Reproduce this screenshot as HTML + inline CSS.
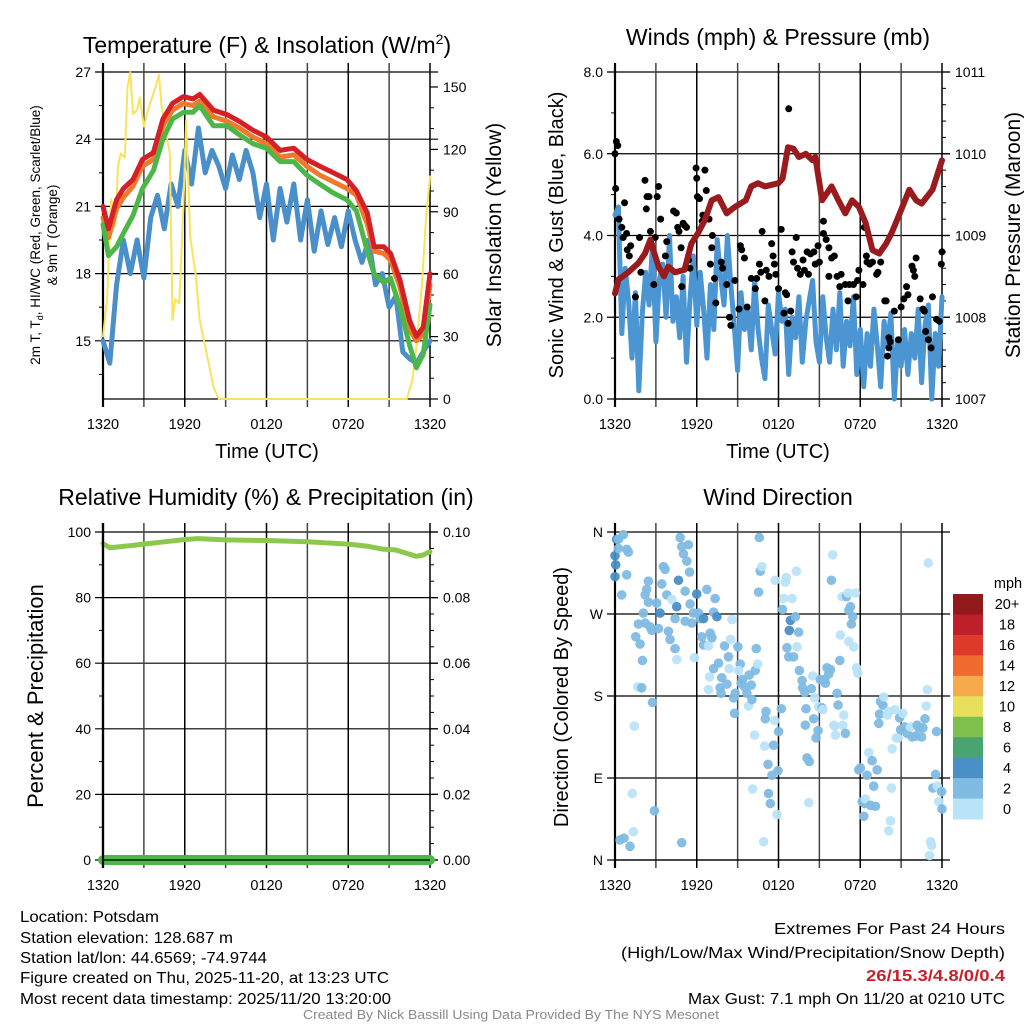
<!DOCTYPE html>
<html><head><meta charset="utf-8">
<style>
html,body{margin:0;padding:0;background:#fff;}
svg{display:block;font-family:"Liberation Sans",sans-serif;}
</style></head>
<body>
<svg id="chart" width="1024" height="1024" viewBox="0 0 1024 1024" xmlns="http://www.w3.org/2000/svg">
<g id="bg"></g>
<text x="267" y="53" font-size="23" text-anchor="middle">Temperature (F) &amp; Insolation (W/m<tspan dy="-9" font-size="14">2</tspan><tspan dy="9">)</tspan></text>
<text x="778" y="45" font-size="23" text-anchor="middle">Winds (mph) &amp; Pressure (mb)</text>
<text x="266" y="505" font-size="23" text-anchor="middle">Relative Humidity (%) &amp; Precipitation (in)</text>
<text x="778" y="505" font-size="23" text-anchor="middle">Wind Direction</text>

<text font-size="13.5" text-anchor="middle" transform="translate(40,235) rotate(-90)">2m T, T<tspan font-size="9" dy="3">d</tspan><tspan dy="-3">, HI/WC (Red, Green, Scarlet/Blue)</tspan></text>
<text font-size="13.5" text-anchor="middle" transform="translate(57,235) rotate(-90)">&amp; 9m T (Orange)</text>
<text font-size="21" text-anchor="middle" transform="translate(501,235) rotate(-90)">Solar Insolation (Yellow)</text>
<text font-size="20" text-anchor="middle" transform="translate(563,235) rotate(-90)">Sonic Wind &amp; Gust (Blue, Black)</text>
<text font-size="21" text-anchor="middle" transform="translate(1020,235) rotate(-90)">Station Pressure (Maroon)</text>
<text font-size="22" text-anchor="middle" transform="translate(43,696) rotate(-90)">Percent &amp; Precipitation</text>
<text font-size="20" text-anchor="middle" transform="translate(568,697) rotate(-90)">Direction (Colored By Speed)</text>
<text x="267" y="458" font-size="20" text-anchor="middle">Time (UTC)</text>
<text x="778" y="458" font-size="20" text-anchor="middle">Time (UTC)</text>

<g id="plots"></g>

<g font-size="16" lengthAdjust="spacingAndGlyphs">
<text x="20" y="922" textLength="139" lengthAdjust="spacingAndGlyphs">Location: Potsdam</text>
<text x="20" y="943" textLength="213" lengthAdjust="spacingAndGlyphs">Station elevation: 128.687 m</text>
<text x="20" y="963" textLength="247" lengthAdjust="spacingAndGlyphs">Station lat/lon: 44.6569; -74.9744</text>
<text x="20" y="983" textLength="369" lengthAdjust="spacingAndGlyphs">Figure created on Thu, 2025-11-20, at 13:23 UTC</text>
<text x="20" y="1004" textLength="371" lengthAdjust="spacingAndGlyphs">Most recent data timestamp: 2025/11/20 13:20:00</text>
</g>
<g font-size="16">
<text x="774" y="934" textLength="231" lengthAdjust="spacingAndGlyphs">Extremes For Past 24 Hours</text>
<text x="621" y="958" textLength="384" lengthAdjust="spacingAndGlyphs">(High/Low/Max Wind/Precipitation/Snow Depth)</text>
<text x="866" y="981" textLength="139" lengthAdjust="spacingAndGlyphs" fill="#c8202a" font-weight="bold">26/15.3/4.8/0/0.4</text>
<text x="688" y="1004" textLength="317" lengthAdjust="spacingAndGlyphs">Max Gust: 7.1 mph On 11/20 at 0210 UTC</text>
</g>
<text x="303" y="1019" font-size="13" fill="#888" textLength="416" lengthAdjust="spacingAndGlyphs">Created By Nick Bassill Using Data Provided By The NYS Mesonet</text>
</svg>
<script>
// ---------- data ----------
const xTickLabels = ["1320","1920","0120","0720","1320"];
const tempHours = [0,0.4,1,1.5,2.2,2.9,3.7,4.4,5.1,5.9,6.6,7.1,8.1,9.1,10,11,12,13,14,14.95,15.9,16.9,17.9,18.6,19.4,19.9,20.6,21.1,21.8,22.5,23,23.5,24];
const tempRed = [21,20,21.3,21.8,22.2,23.1,23.4,24.9,25.6,25.9,25.8,26,25.3,25.1,24.8,24.4,24.1,23.5,23.6,23.1,22.8,22.5,22.2,21.7,20.7,19.2,19.2,18.9,17.7,15.9,15.2,15.6,18];
const tempOrange = [20.5,19.6,20.9,21.4,21.9,22.8,23.1,24.6,25.3,25.6,25.5,25.7,25,24.8,24.5,24.1,23.8,23.2,23.3,22.8,22.4,22.1,21.8,21.5,20.2,19,18.9,18.6,17.4,15.5,15,15.3,17.5];
const tempGreen = [20.2,18.8,19.2,19.8,20.6,21.8,22.6,24,24.9,25.2,25.2,25.5,24.6,24.6,24.2,23.8,23.6,23,23,22.4,22,21.6,21.3,20.8,19,18,17.6,17.8,16.5,14.8,13.8,14.4,16.6];
const dewpointBlue = [15,14,17.5,19.5,18,19.5,17.8,20.5,21.5,20,22,21,23.5,22,24.5,22.5,23.5,22.8,21.8,23.3,22.2,23.5,22.5,20.5,22,19.5,21.8,20.3,22,19.5,21.3,19,20.8,19.3,20.5,19.2,20.8,19.5,18.5,19.5,17.5,18,16.5,17,14.5,14.2,14,14.5,15];
const solarHours = [0,0.3,0.6,0.9,1.1,1.3,1.6,1.8,2,2.2,2.5,2.7,3,3.3,3.6,3.9,4.1,4.3,4.6,4.9,5.1,5.3,5.6,5.9,6.1,6.4,6.8,7.1,7.6,8.1,8.5,22.3,22.7,23,23.4,23.7,24];
const solarValues = [30,48,96,83,112,118,116,150,157,137,139,145,131,139,145,151,156,141,129,118,38,48,46,92,134,78,60,38,22,6,0,0,9,25,54,86,107];
const windSpeed = [4.5,4.7,1.6,3.2,2.4,1.0,2.6,0.2,2.1,3.1,2.3,3.8,1.4,2.9,3.3,2.0,4.0,1.9,2.5,1.5,3.0,0.9,2.4,3.5,1.8,3.1,2.2,1.0,2.8,1.7,3.9,3.0,2.3,4.0,2.8,1.8,0.7,2.6,1.7,2.2,1.2,2.9,1.7,1.0,0.5,2.3,1.7,1.1,2.6,1.9,2.2,0.6,2.0,1.5,2.5,0.9,1.9,2.4,2.9,1.4,0.9,2.5,1.5,0.9,2.2,1.2,2.6,0.8,1.9,1.3,2.5,0.6,1.7,0.3,1.6,0.8,2.2,1.3,0.3,1.9,1.3,2.1,0.0,1.4,0.8,1.7,0.6,1.6,1.0,2.2,0.4,1.8,2.3,0.0,1.6,0.8,2.5];
const gustHours = [0,0.05,0.1,0.2,0.3,0.5,0.6,0.7,0.85,0.9,1.05,1.15,1.5,1.8,1.9,2.2,2.3,2.35,2.5,2.6,2.85,2.95,3.1,3.2,3.35,3.8,3.7,4.3,4.5,4.6,4.7,4.85,4.9,5,5.1,5.25,5.4,5.5,5.95,6,6.05,6.2,6.4,6.45,6.6,6.7,6.9,7.15,7,7.1,7.3,7.4,7.8,7.9,8.2,8.4,8.5,8.8,9.1,9.2,9.3,9.5,9.7,10,10.3,10.4,10.6,10.7,10.8,11,11.1,11.3,11.5,11.6,11.7,11.8,12,12.2,12.5,12.6,12.9,12.4,12.7,12.75,13,13.1,13.3,13.4,13.6,13.8,13.9,14.1,14.2,14.35,14.6,14.7,14.9,15,15.3,15.3,15.5,15.7,15.7,15.9,16.1,16.3,16.5,16.6,16.9,17.1,17.2,17.5,17.7,17.8,17.9,18.2,18.3,18.45,18.5,18.7,18.9,19.2,19.3,19.5,19.8,19.9,20.1,20.1,20.2,20,20.5,20.8,21,21.2,21.4,21.5,21.8,21.9,22,22.1,22.4,22.6,22.7,22.8,23,23.2,23.3,23.6,23.8,23.95,24];
const gustValues = [6.0,5.15,6.3,6.2,4.4,4.2,3.95,4.8,4.05,3.65,3.5,3.75,2.5,3.95,3.1,5.35,4.65,4.95,4.95,4.1,2.8,3.95,4.95,5.2,4.4,3.85,3.5,4.6,4.55,4.2,4.1,3.7,2.75,4.3,4.25,4.2,3.4,3.2,5.65,5.4,4.95,4.9,4.35,4.5,5.6,5.1,4.4,4.0,3.3,3.7,2.95,2.35,3.35,3.2,2.8,2.0,1.8,2.9,2.2,3.75,3.65,3.45,2.25,2.95,2.7,2.95,3.3,3.1,4.1,2.4,3.15,3.0,3.8,3.5,3.3,3.05,2.7,4.15,2.6,2.55,2.15,2.1,1.85,7.1,3.6,3.35,3.95,3.2,3.05,3.4,3.15,3.6,3.05,3.55,3.6,3.3,3.75,3.35,4.05,4.35,3.9,3.0,3.7,3.45,3.5,3.0,2.75,3.05,2.8,2.4,2.8,2.8,2.5,2.9,3.15,2.8,4.2,3.5,3.35,3.3,3.35,3.05,3.1,3.35,2.4,2.4,1.5,1.25,1.4,1.05,2.15,1.45,2.25,2.45,2.75,2.55,3.25,3.15,3.0,3.45,2.45,2.2,2.15,1.65,1.45,1.25,2.5,1.95,1.9,3.3,3.6];
const pressureHours = [0,0.25,0.9,1.7,2.2,2.6,2.8,3.2,3.6,3.9,4.4,5.1,5.6,6.1,6.6,7.1,7.6,8.2,8.8,9.6,10,10.5,11,12,12.3,12.7,13.1,13.5,14,14.5,14.7,15.2,15.9,16.4,16.9,17.4,17.9,18.4,18.9,19.4,19.9,20.3,20.8,21.6,22.1,22.5,23.3,24];
const pressureValues = [1008.29,1008.46,1008.54,1008.66,1008.78,1008.95,1008.83,1008.62,1008.5,1008.62,1008.55,1008.58,1008.9,1009.03,1009.19,1009.43,1009.47,1009.27,1009.35,1009.43,1009.6,1009.64,1009.6,1009.64,1009.7,1010.08,1010.06,1009.96,1010.0,1009.92,1009.96,1009.43,1009.6,1009.43,1009.27,1009.43,1009.35,1009.15,1008.82,1008.78,1008.9,1009.03,1009.23,1009.56,1009.43,1009.39,1009.56,1009.92];
const rhHours = [0,0.5,1.5,3,4.5,6,7,9,12,15,18,19.5,20.5,21.5,22.5,23,23.5,24];
const rhValues = [96.5,95.2,95.6,96.3,97,97.7,98,97.6,97.4,97,96.3,95.6,94.8,94.5,93.2,92.6,93,94];
const precipHours = [0,24];
const precipValues = [0,0];
const dirHours = [0,0.12,0.25,0.61,0.25,0.05,0,0.86,0.98,0.86,0.49,2.45,2.33,2.21,2.45,2.08,1.72,2.21,2.57,2.7,1.52,1.84,2.01,1.67,1.96,2.75,1.42,1.27,2.89,1.35,0.37,0.66,1.1,4.9,3.06,3.31,3.19,3.43,3.55,3.68,3.8,4.17,3.92,4.04,4.41,4.53,4.41,4.53,4.66,4.78,4.9,5.02,5.27,5.39,5.47,5.15,5.51,5.15,5.64,5.76,5.83,6,6.13,6.25,6.5,6.74,6.37,6.5,6.86,6.99,7.35,7.23,7.48,7.11,6.94,6.86,7.23,7.6,7.72,7.84,7.79,8.04,8.21,8.33,8.48,8.38,8.58,8.7,8.77,8.82,9.02,9.19,9.07,9.26,9.36,9.51,9.68,9.85,9.8,10,10.05,10.29,10.37,10.47,10.54,10.59,10.66,10.78,10.25,10.1,10.91,11.03,11.08,10.98,11.23,11.27,11.4,11.52,11.64,11.72,12.01,11.96,11.89,12.21,12.3,11.76,12.38,12.5,12.57,12.62,12.75,12.87,12.79,12.99,13.11,13.24,13.36,13.31,13.48,13.53,13.73,13.77,13.92,14.02,13.97,14.09,14.26,14.22,14.41,14.51,14.58,14.66,14.75,14.9,14.95,15.07,15.2,15.25,15.39,15.44,15.56,15.69,15.81,15.88,15.98,16.05,16.13,16.18,16.3,16.37,16.5,16.54,16.72,16.79,16.91,16.67,16.99,17.11,17.16,17.28,17.35,17.45,17.16,17.52,17.65,17.72,17.82,17.89,18.01,18.14,18.26,18.33,18.5,18.63,18.87,18.99,19.12,19.24,18.38,18.75,19.36,19.41,19.49,19.66,19.73,19.98,20.1,20.22,20.1,20.34,20.29,20.54,20.64,20.78,20.88,20.96,21.13,21.27,21.45,21.69,21.81,22.06,22.18,22.3,22.5,22.6,22.75,22.84,22.92,22.99,23.16,23.24,23.09,23.33,23.53,23.65,23.77,23.97,24,23.6];
const dirDegrees = [334,352,352,357,342,324,311,341,338,313,291,306,297,291,283,271,259,260,256,252,245,237,219,190,189,173,147,73,54,31,22,24,15,19,282,271,254,303,322,319,291,286,251,242,265,278,232,220,307,354,344,336,328,346,316,295,281,262,260,271,222,292,271,265,265,297,245,236,235,249,287,272,267,244,201,187,210,216,189,200,183,235,193,223,242,210,264,178,161,183,234,215,208,194,198,190,183,203,169,192,176,208,232,215,294,354,317,322,137,78,20,155,163,125,105,73,62,93,126,153,141,98,50,166,275,307,287,305,310,233,223,263,252,287,223,267,234,317,250,208,197,189,184,166,148,112,108,63,188,202,155,178,134,142,168,198,167,165,198,194,211,204,209,307,335,148,147,137,183,170,219,247,148,159,139,289,289,293,274,278,259,267,240,234,293,211,205,99,101,64,48,62,93,118,109,81,59,99,67,60,150,160,174,170,179,159,163,43,32,122,79,165,134,134,156,143,161,146,139,146,135,136,148,145,135,145,155,169,187,326,20,16,5,79,94,81,64,75,56,141];
const dirSpeeds = [5,5,3,3,3,5,5,3,3,3,3,3,3,3,3,3,3,3,3,3,3,3,3,1,3,3,1,1,3,1,3,3,3,3,3,5,3,3,3,3,3,1,3,3,3,5,3,1,5,3,3,3,3,3,3,3,3,3,3,3,1,5,3,3,5,3,3,3,1,3,3,3,5,3,1,1,3,3,3,3,3,3,3,3,1,1,1,3,3,3,3,3,1,3,3,3,3,3,1,3,3,3,3,1,3,3,3,1,1,1,1,3,3,1,3,3,3,3,3,1,3,3,1,3,3,1,1,1,1,3,3,5,5,1,3,3,1,1,3,3,3,3,3,3,3,3,3,1,3,1,3,1,3,3,1,3,3,1,3,3,3,3,3,3,1,1,1,1,3,3,3,1,1,1,3,1,3,1,3,3,3,3,1,1,1,1,1,3,3,3,3,3,3,1,3,3,3,3,1,3,3,3,3,3,1,1,1,1,1,1,1,1,1,1,3,3,1,3,3,1,3,3,3,3,3,3,3,1,1,1,1,1,1,3,3,1,1,3,3,3];
const speedBinLabels = ["20+","18","16","14","12","10","8","6","4","2","0"];
const speedBinColors = ["#921a1d","#bd1f2b","#dd3a2c","#ef6a2e","#f6aa4c","#e8e05c","#7dc04d","#4aa46f","#4a8fc6","#80bbe3","#b9e3f8"];

// ---------- helpers ----------
const NS = "http://www.w3.org/2000/svg";
const root = document.getElementById('plots');
function mk(tag, attrs, parent){
  const e = document.createElementNS(NS, tag);
  for (const k in attrs) e.setAttribute(k, attrs[k]);
  (parent||root).appendChild(e);
  return e;
}
function panel(x0,x1,y0,y1){
  return {x0,x1,y0,y1,
    x: h => x0 + h/24*(x1-x0),
    y: (v,lo,hi) => y1 - (v-lo)/(hi-lo)*(y1-y0)};
}
function frame(p, leftTicks, rightTicks, leftFmt, rightFmt, showXLabels){
  const g = mk('g',{});
  
  
  leftTicks.major.forEach(v=>{
    const y = p.y(v,leftTicks.lo,leftTicks.hi);
    const l = mk('line',{x1:p.x0-8,x2:p.x1+8,y1:y,y2:y,stroke:'#000','stroke-width':1.2},g);
    
    
    const t = mk('text',{x:p.x0-12,y:y+5,'font-size':14,'text-anchor':'end'},g);
    t.textContent = leftFmt(v);
    
    
  });
  leftTicks.minor.forEach(v=>{
    const y = p.y(v,leftTicks.lo,leftTicks.hi);
    mk('line',{x1:p.x0-4,x2:p.x0,y1:y,y2:y,stroke:'#000','stroke-width':1},g);
  });
  if (rightTicks){
    rightTicks.major.forEach(v=>{
      const y = p.y(v,rightTicks.lo,rightTicks.hi);
      mk('line',{x1:p.x1,x2:p.x1+8,y1:y,y2:y,stroke:'#000','stroke-width':1.2},g);
      const t = mk('text',{x:p.x1+13,y:y+5,'font-size':14,'text-anchor':'start'},g);
      t.textContent = rightFmt(v);
      
      
    });
    rightTicks.minor.forEach(v=>{
      const y = p.y(v,rightTicks.lo,rightTicks.hi);
      mk('line',{x1:p.x1,x2:p.x1+4,y1:y,y2:y,stroke:'#000','stroke-width':1},g);
    });
  }
  for (let i=0;i<=8;i++){
    const x = p.x(i*3);
    const l = mk('line',{x1:x,x2:x,y1:p.y0-9,y2:p.y1+8,stroke:(i%2?'#444':'#000'),'stroke-width':(i==0?2.2:1.5)},g);
    
    
  }
  mk('line',{x1:p.x0,x2:p.x1,y1:p.y1,y2:p.y1,stroke:'#000','stroke-width':1.2},g);
  if (showXLabels){
    xTickLabels.forEach((lab,i)=>{
      const t = mk('text',{x:p.x(i*6),y:p.y1+30,'font-size':14.5,'text-anchor':'middle'},g);
      t.textContent = lab;
      
      
    });
  }
}
function line(p, hours, vals, lo, hi, color, w, name){
  let d = '';
  vals.forEach((v,i)=>{ d += (i?'L':'M') + p.x(hours[i]).toFixed(1)+','+p.y(v,lo,hi).toFixed(1); });
  const e = mk('path',{d, fill:'none', stroke:color, 'stroke-width':w, 'stroke-linejoin':'round','stroke-linecap':'round'});
  
  
  return e;
}
function range(a,b,s){const r=[];for(let v=a;v<=b+1e-9;v+=s)r.push(+v.toFixed(4));return r;}
function evenHours(n){return Array.from({length:n},(_,i)=>i*24/(n-1));}

// ---------- panel 1: temperature ----------
const p1 = panel(103,430,72,399);
const tLo = 27-327/22.4, tHi = 27;
const sLo = 0, sHi = 157.2;
frame(p1,{lo:tLo,hi:tHi,major:[15,18,21,24,27],minor:range(13.5,25.5,1.5).filter(v=>v%3!==0)},
      {lo:sLo,hi:sHi,major:[0,30,60,90,120,150],minor:range(10,140,10).filter(v=>v%30!==0)},
      v=>String(v), v=>String(v), true);
line(p1, evenHours(dewpointBlue.length), dewpointBlue, tLo, tHi, '#4a8fca', 5, 'dewpoint-line');
line(p1, solarHours, solarValues, sLo, sHi, '#f8e35a', 2, 'solar-insolation-line');
line(p1, tempHours, tempOrange, tLo, tHi, '#f07a2c', 5, 'temperature-9m-line');
line(p1, tempHours, tempGreen, tLo, tHi, '#4cb748', 5, 'heat-index-wind-chill-line');
line(p1, tempHours, tempRed, tLo, tHi, '#d42027', 5, 'temperature-2m-line');

// ---------- panel 2: winds ----------
const p2 = panel(615,942,72,399);
frame(p2,{lo:0,hi:8,major:[0,2,4,6,8],minor:[1,3,5,7]},
      {lo:1007,hi:1011,major:[1007,1008,1009,1010,1011],minor:range(1007.2,1010.8,0.2).filter(v=>Math.abs(v-Math.round(v))>0.01)},
      v=>v.toFixed(1), v=>String(v), true);
line(p2, evenHours(windSpeed.length), windSpeed, 0, 8, '#4a95d2', 5, 'sonic-wind-line');
gustHours.forEach((h,i)=>{
  const c = mk('circle',{cx:p2.x(h),cy:p2.y(gustValues[i],0,8),r:3.5,fill:'#000'});
  
  
});
line(p2, pressureHours, pressureValues, 1007, 1011, '#9a1b1e', 6, 'pressure-line');

// ---------- panel 3: humidity ----------
const p3 = panel(103,430,532,860);
frame(p3,{lo:0,hi:100,major:[0,20,40,60,80,100],minor:range(10,90,20)},
      {lo:0,hi:0.1,major:[0,0.02,0.04,0.06,0.08,0.1],minor:range(0.005,0.095,0.005).filter(v=>Math.abs(v*100-Math.round(v*100))>0.01||Math.round(v*100)%2===1)},
      v=>String(v), v=>v.toFixed(2), true);
line(p3, rhHours, rhValues, 0, 100, '#8cc84c', 5, 'relative-humidity-line');
line(p3, precipHours, precipValues, 0, 0.1, '#4cb848', 10, 'precipitation-line');
mk('line',{x1:p3.x0,x2:p3.x0,y1:p3.y0-9,y2:p3.y1+8,stroke:'#000','stroke-width':2.2});
mk('line',{x1:p3.x0,x2:p3.x1,y1:p3.y1,y2:p3.y1,stroke:'#000','stroke-width':1.2});

// ---------- panel 4: wind direction ----------
const p4 = panel(615,942,532,860);
const dirLabels = ["N","E","S","W","N"];
frame(p4,{lo:0,hi:360,major:[0,90,180,270,360],minor:[]},null,
      v=>dirLabels[v/90], null, true);
const binColor = s => speedBinColors[10-Math.min(10,Math.floor(s/2))];
dirHours.forEach((h,i)=>{
  const c = mk('circle',{cx:p4.x(h),cy:p4.y(dirDegrees[i],0,360),r:4.8,fill:binColor(dirSpeeds[i]),'fill-opacity':0.95});
  
  
});
const cb = mk('g',{});


const cbTop = 594, cbH = 225/11;
speedBinLabels.forEach((lab,i)=>{
  const r = mk('rect',{x:953,y:cbTop+i*cbH,width:30,height:cbH+0.5,fill:speedBinColors[i]},cb);
  
  
  const t = mk('text',{x:1007,y:cbTop+i*cbH+cbH/2+5,'font-size':14.5,'text-anchor':'middle'},cb);
  t.textContent = lab;
  
  
});
const mph = mk('text',{x:1008,y:588,'font-size':14.5,'text-anchor':'middle'},cb);
mph.textContent = 'mph';


</script>
</body></html>
